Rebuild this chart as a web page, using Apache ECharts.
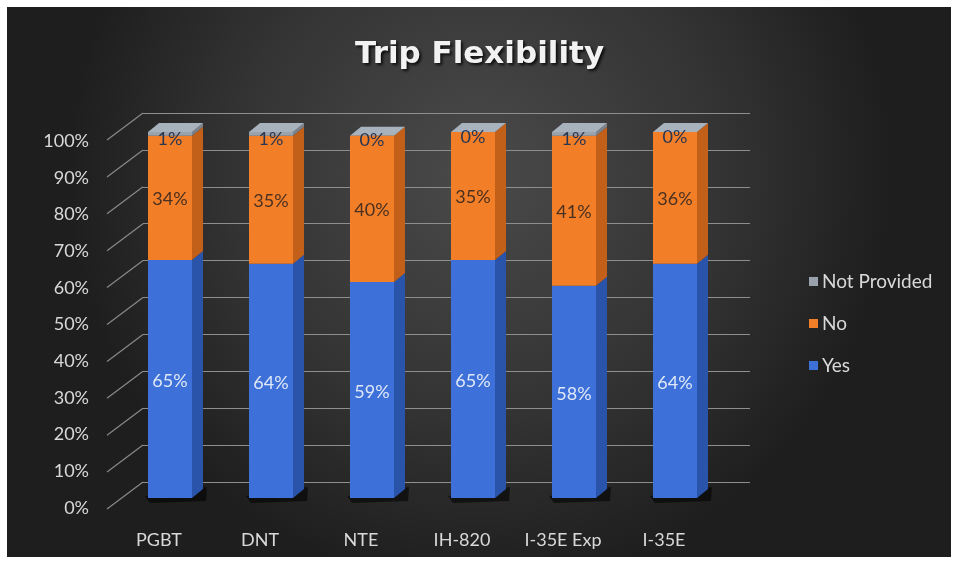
<!DOCTYPE html>
<html>
<head>
<meta charset="utf-8">
<script src="https://cdn.jsdelivr.net/npm/echarts@6/dist/echarts.min.js"></script>
<style>
html,body{margin:0;padding:0;background:#fff;}
#c{width:959px;height:564px;}
</style>
</head>
<body>
<div id="c"></div>
<script>
const categories = ['PGBT', 'DNT', 'NTE', 'IH-820', 'I-35E Exp', 'I-35E'];
const yesValues = [65, 64, 59, 65, 58, 64];
const noValues = [34, 35, 40, 35, 41, 36];
const notProvidedValues = [1, 1, 0, 0, 1, 0];
const yTicks = [0, 10, 20, 30, 40, 50, 60, 70, 80, 90, 100];

const FONT = 'Lato';
const seriesDefs = [
  {name: 'Yes', data: yesValues, front: '#3d70d8', side: '#2a54aa', label: '#dfe8f7', pos: 'inside', off: [0, 2]},
  {name: 'No', data: noValues, front: '#f27f28', side: '#c2601a', label: '#4a3020', pos: 'inside', off: [0, 1]},
  {name: 'Not Provided', data: notProvidedValues, front: '#9aa3ad', side: '#7c838c', label: '#2a3550', pos: 'inside', off: [0, 5]}
];

const chart = echarts.init(document.getElementById('c'), null, {renderer: 'canvas'});

const barSeries = seriesDefs.map(s => ({
  name: s.name,
  type: 'bar',
  stack: 'total',
  xAxisIndex: 1,
  yAxisIndex: 1,
  barWidth: 44,
  data: s.data,
  itemStyle: {color: s.front},
  z: 5,
  label: {
    show: true,
    position: s.pos,
    offset: s.off,
    formatter: p => p.value + '%',
    color: s.label,
    fontFamily: FONT,
    fontSize: 18
  }
}));

// side and top faces of the 3D columns
const sideSeries = {
  type: 'custom',
  xAxisIndex: 1,
  yAxisIndex: 1,
  z: 4,
  silent: true,
  data: categories.map((c, i) => i),
  renderItem: function (params, api) {
    const i = api.value(0);
    const children = [];
    let acc = 0;
    const dx = 11, dy = -9, half = 22;
    const base = api.coord([i, 0]);
    children.push({
      type: 'polygon',
      shape: {points: [[base[0] - half - 3, base[1] - 2], [base[0] + half + dx + 4, base[1] + dy - 2], [base[0] + half + dx + 3, base[1] + 3], [base[0] - half + 2, base[1] + 5]]},
      style: {fill: 'rgba(0,0,0,0.55)'}
    });
    seriesDefs.forEach(s => {
      const v = s.data[i];
      const p0 = api.coord([i, acc]);
      const p1 = api.coord([i, acc + v]);
      acc += v;
      if (v <= 0) return;
      const x = p0[0] + half;
      children.push({
        type: 'polygon',
        shape: {points: [[x, p0[1]], [x + dx, p0[1] + dy], [x + dx, p1[1] + dy], [x, p1[1]]]},
        style: {fill: s.side}
      });
    });
    const t = api.coord([i, acc]);
    children.push({
      type: 'polygon',
      shape: {points: [[t[0] - half, t[1]], [t[0] + half, t[1]], [t[0] + half + dx, t[1] + dy], [t[0] - half + dx, t[1] + dy]]},
      style: {fill: '#a7b2bd'}
    });
    return {type: 'group', children: children};
  }
};

// diagonal lines of the left wall, from back wall to front label plane
const wallSeries = {
  type: 'custom',
  xAxisIndex: 0,
  yAxisIndex: 0,
  z: 1,
  silent: true,
  data: yTicks.map(t => [0, t]),
  renderItem: function (params, api) {
    const p = api.coord([0, api.value(1)]);
    return {
      type: 'line',
      shape: {x1: p[0], y1: p[1], x2: p[0] - 36, y2: p[1] + 27},
      style: {stroke: '#8a8a8a', lineWidth: 1.2}
    };
  }
};

const option = {
  backgroundColor: '#ffffff',
  animation: false,
  graphic: [{
    type: 'rect',
    z: -10,
    shape: {x: 7, y: 7, width: 944, height: 550},
    style: {
      fill: {
        type: 'radial', x: 0.5, y: 0.3, r: 0.75,
        colorStops: [{offset: 0, color: '#4a4a4a'}, {offset: 0.6, color: '#333333'}, {offset: 1, color: '#1e1e1e'}]
      }
    }
  }],
  title: {
    text: 'Trip Flexibility',
    left: 'center',
    top: 34,
    textStyle: {
      color: '#f2f2f2', fontFamily: 'DejaVu Sans', fontWeight: 'bold', fontSize: 31,
      textShadowColor: 'rgba(0,0,0,0.8)', textShadowBlur: 3, textShadowOffsetX: 2, textShadowOffsetY: 2
    }
  },
  legend: {
    orient: 'vertical',
    left: 804,
    top: 267,
    itemGap: 23,
    itemWidth: 9,
    itemHeight: 9,
    icon: 'rect',
    data: ['Not Provided', 'No', 'Yes'],
    textStyle: {color: '#d9d9d9', fontFamily: FONT, fontSize: 19, padding: [0, 0, 0, -1]}
  },
  grid: [
    {left: 143, top: 113, width: 607, height: 369},
    {left: 119.5, top: 132, width: 606, height: 366},
    {left: 107, top: 141, width: 600, height: 367}
  ],
  xAxis: [
    {gridIndex: 0, type: 'value', min: 0, max: 1, show: false},
    {gridIndex: 1, type: 'category', data: categories,
      axisLine: {show: false}, axisTick: {show: false},
      axisLabel: {color: '#d9d9d9', fontFamily: FONT, fontSize: 18, margin: 33, padding: [0, 22, 0, 0]}},
    {gridIndex: 2, type: 'value', show: false}
  ],
  yAxis: [
    {gridIndex: 0, type: 'value', min: 0, max: 100, interval: 10,
      axisLabel: {show: false}, axisLine: {show: false}, axisTick: {show: false},
      splitLine: {show: true, lineStyle: {color: '#8e8e8e', width: 1.2}}},
    {gridIndex: 1, type: 'value', min: 0, max: 100, show: false},
    {gridIndex: 2, type: 'value', min: 0, max: 100, interval: 10,
      axisLine: {show: false}, axisTick: {show: false}, splitLine: {show: false},
      axisLabel: {color: '#d9d9d9', fontFamily: FONT, fontSize: 18, margin: 18, formatter: '{value}%'}}
  ],
  series: [wallSeries, sideSeries].concat(barSeries)
};
chart.setOption(option);
</script>
</body>
</html>
